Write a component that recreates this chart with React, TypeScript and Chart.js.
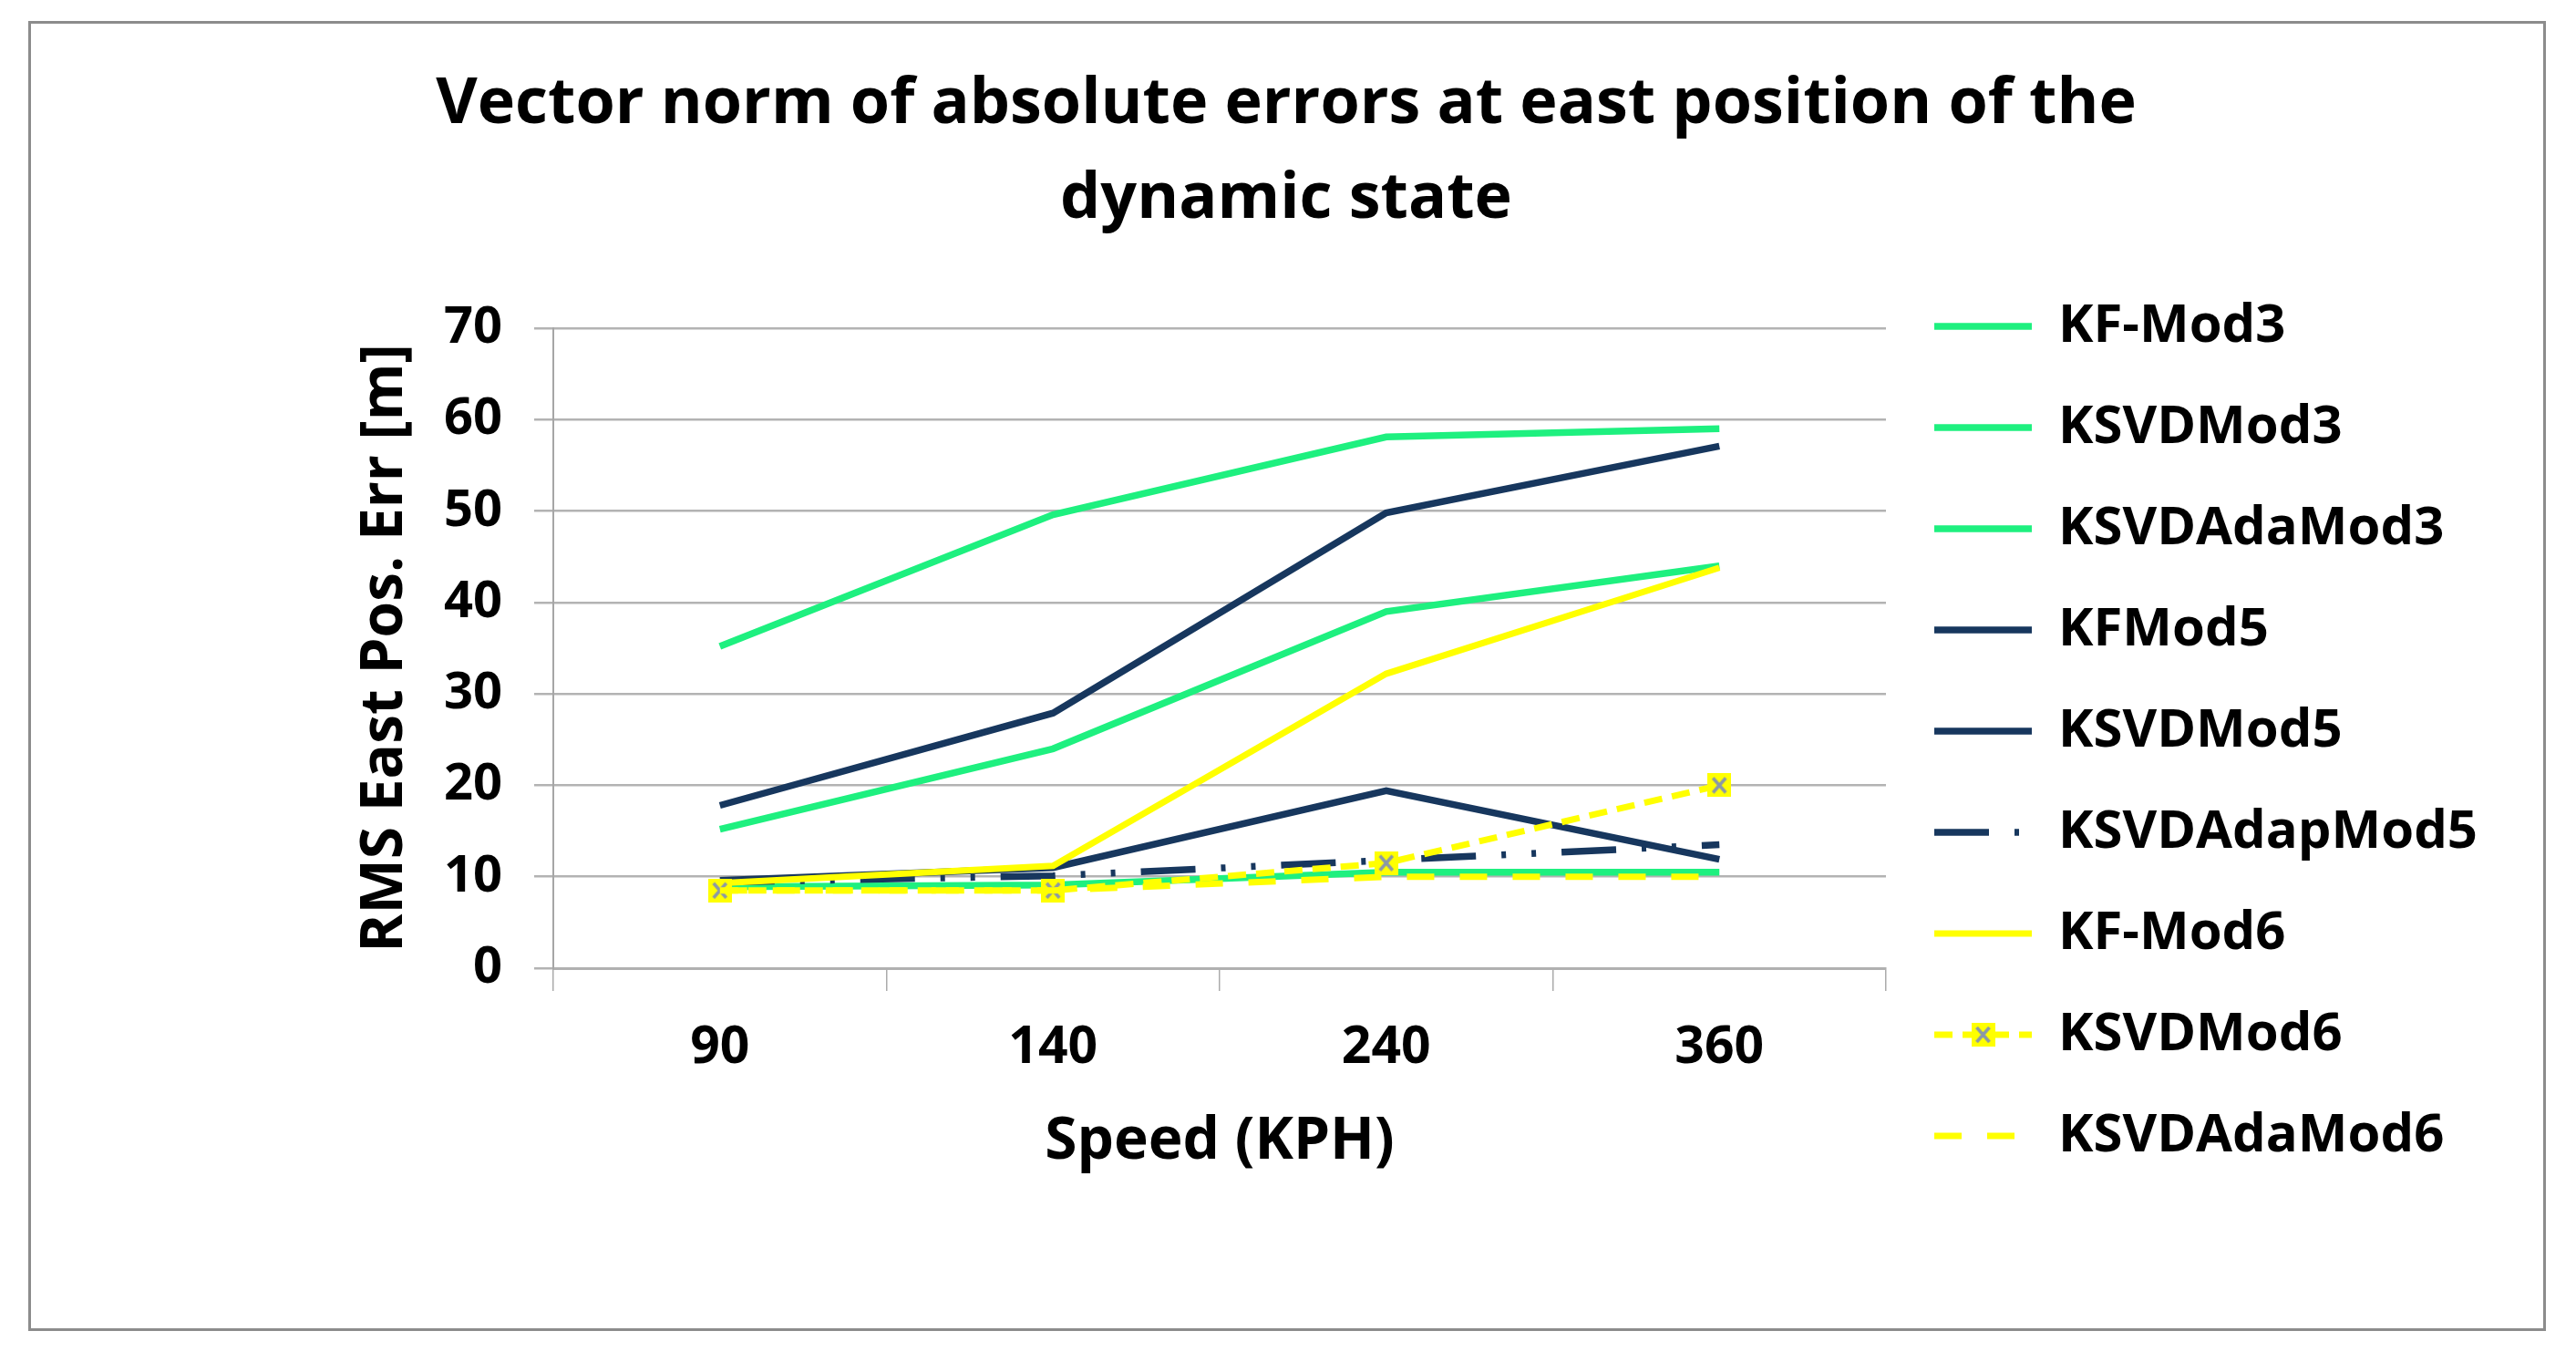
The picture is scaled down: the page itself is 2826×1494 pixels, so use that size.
import React, { useEffect, useRef } from 'react';
import { Chart, registerables } from 'chart.js';

Chart.register(...registerables);

// ---- data ----
const speeds = ['90', '140', '240', '360'];
const seriesNames = [
  'KF-Mod3',
  'KSVDMod3',
  'KSVDAdaMod3',
  'KFMod5',
  'KSVDMod5',
  'KSVDAdapMod5',
  'KF-Mod6',
  'KSVDMod6',
  'KSVDAdaMod6',
];
const kfMod3 = [35.2, 49.6, 58.1, 59.0];
const ksvdMod3 = [15.2, 24.0, 39.0, 44.0];
const ksvdAdaMod3 = [8.9, 9.1, 10.5, 10.5];
const kfMod5 = [17.8, 27.9, 49.8, 57.1];
const ksvdMod5 = [9.6, 11.0, 19.4, 11.9];
const ksvdAdapMod5 = [9.4, 10.1, 11.8, 13.5];
const kfMod6 = [9.3, 11.2, 32.2, 43.8];
const ksvdMod6 = [8.5, 8.5, 11.5, 20.0];
const ksvdAdaMod6 = [8.5, 8.5, 10.0, 10.0];
const yTicks = { min: 0, max: 70, step: 10 };

const titleLines = ['Vector norm of absolute errors at east position of the', 'dynamic state'];
const xTitle = 'Speed (KPH)';
const yTitle = 'RMS East Pos. Err [m]';

// ---- styles ----
const GREEN = '#1EF07F';
const NAVY = '#17375E';
const YELLOW = '#FFFF00';
const FONT = "'Open Sans', 'Noto Sans', sans-serif";

const W = 2756;
const H = 1431;
const CL = 573;
const CR = 2035;
const LEG_FONT = 58;
const LEG_PAD = 53;
const LEG_LINE = 107;

function makeMarker(): HTMLCanvasElement {
  const c = document.createElement('canvas');
  c.width = 26;
  c.height = 26;
  const g = c.getContext('2d')!;
  g.fillStyle = YELLOW;
  g.fillRect(0, 0, 26, 26);
  g.strokeStyle = '#8A98A8';
  g.lineWidth = 3.5;
  g.beginPath();
  g.moveTo(6, 5);
  g.lineTo(20, 21);
  g.moveTo(20, 5);
  g.lineTo(6, 21);
  g.stroke();
  return c;
}

export default function App() {
  const ref = useRef<HTMLCanvasElement>(null);

  useEffect(() => {
    if (!ref.current) return;
    Chart.defaults.font.family = FONT;
    Chart.defaults.color = '#000';

    const marker = makeMarker();
    const values = [kfMod3, ksvdMod3, ksvdAdaMod3, kfMod5, ksvdMod5, ksvdAdapMod5, kfMod6, ksvdMod6, ksvdAdaMod6];
    const colors = [GREEN, GREEN, GREEN, NAVY, NAVY, NAVY, YELLOW, YELLOW, YELLOW];
    const dashes: number[][] = [[], [], [], [], [], [60, 28, 5, 28, 5, 28], [], [20, 11], [30, 28]];
    const widths = [7.5, 7.5, 7.5, 7.5, 7.5, 7.5, 7, 7, 7];

    const datasets = seriesNames.map((name, i) => ({
      label: name,
      data: values[i],
      borderColor: colors[i],
      backgroundColor: colors[i],
      borderWidth: widths[i],
      borderDash: dashes[i],
      borderCapStyle: 'butt' as const,
      tension: 0,
      fill: false,
      pointRadius: i === 7 ? 12 : 0,
      pointHoverRadius: i === 7 ? 12 : 0,
      pointStyle: i === 7 ? (marker as any) : 'circle',
      order: seriesNames.length - i,
    }));

    // compute paddings so chart area & title land where wanted
    const m = document.createElement('canvas').getContext('2d')!;
    m.font = `bold ${LEG_FONT}px ${FONT}`;
    const maxText = Math.max(...seriesNames.map((n) => m.measureText(n).width));
    const LW = LEG_PAD + LEG_LINE + LEG_FONT / 2 + maxText + 10;
    let pr = W - CR - LW;
    if (LW > (W - 2 * pr + 2) / 4) pr = (3 * W - 2 - 4 * CR) / 2;
    const pl = pr - 2;

    const legendMarker = {
      id: 'legendMarker',
      afterDraw(chart: any) {
        const legend = chart.legend;
        if (!legend || !legend.legendHitBoxes) return;
        const hb = legend.legendHitBoxes[7];
        if (!hb) return;
        const ctx = chart.ctx;
        const cx = hb.left + LEG_LINE / 2;
        const cy = hb.top + hb.height / 2;
        ctx.drawImage(marker, cx - marker.width / 2, cy - marker.height / 2);
      },
    };

    const chart = new Chart(ref.current, {
      type: 'line',
      data: { labels: speeds, datasets },
      plugins: [legendMarker],
      options: {
        animation: false,
        responsive: false,
        devicePixelRatio: 1,
        events: [],
        layout: { padding: { top: 0, bottom: 0, left: pl, right: pr } },
        plugins: {
          tooltip: { enabled: false },
          title: {
            display: true,
            text: titleLines,
            color: '#000',
            font: { size: 70, weight: 'bold', lineHeight: 104 / 70 },
            padding: { top: 37, bottom: 89 },
          },
          legend: {
            display: true,
            position: 'right',
            align: 'start',
            title: { display: true, text: ' ', padding: { top: 240, bottom: 0 }, font: { size: 10, lineHeight: 1 } },
            labels: {
              color: '#000',
              font: { size: LEG_FONT, weight: 'bold' },
              padding: LEG_PAD,
              usePointStyle: true,
              pointStyleWidth: LEG_LINE,
              generateLabels: (ch: any) =>
                ch.data.datasets.map((ds: any, i: number) => ({
                  text: ds.label,
                  fillStyle: ds.borderColor,
                  strokeStyle: ds.borderColor,
                  lineWidth: ds.borderWidth,
                  lineDash: ds.borderDash,
                  lineCap: 'butt',
                  pointStyle: 'line',
                  hidden: false,
                  datasetIndex: i,
                  fontColor: '#000',
                })),
            },
          },
        },
        scales: {
          x: {
            type: 'category',
            offset: true,
            grid: {
              display: true,
              offset: true,
              drawOnChartArea: false,
              drawTicks: true,
              tickLength: 25,
              color: '#ababab',
              lineWidth: 1.5,
            },
            border: { display: true, color: '#b0b0b0', width: 3 },
            ticks: { color: '#000', font: { size: 57, weight: 'bold' }, padding: 29, maxRotation: 0 },
            title: {
              display: true,
              text: xTitle,
              color: '#000',
              font: { size: 64, weight: 'bold' },
              padding: { top: 1.2, bottom: 165.6 },
            },
          },
          y: {
            min: yTicks.min,
            max: yTicks.max,
            afterFit: (s: any) => {
              s.width = CL - pl;
            },
            grid: { color: '#b3b3b3', lineWidth: 2.5, tickLength: 21, drawTicks: true },
            border: { display: true, color: '#a6a6a6', width: 2 },
            ticks: { stepSize: yTicks.step, color: '#000', font: { size: 56, weight: 'bold' }, padding: 35 },
            title: {
              display: true,
              text: yTitle,
              color: '#000',
              font: { size: 64, weight: 'bold' },
              padding: { top: 389 - 38.4 - pl, bottom: 0 },
            },
          },
        },
      } as any,
    });

    return () => chart.destroy();
  }, []);

  return (
    <div
      style={{
        position: 'absolute',
        left: 31,
        top: 23,
        width: W + 6,
        height: H + 6,
        boxSizing: 'border-box',
        border: '3px solid #8c8c8c',
        background: '#fff',
      }}
    >
      <canvas ref={ref} width={W} height={H} style={{ display: 'block', width: W, height: H }} />
    </div>
  );
}
